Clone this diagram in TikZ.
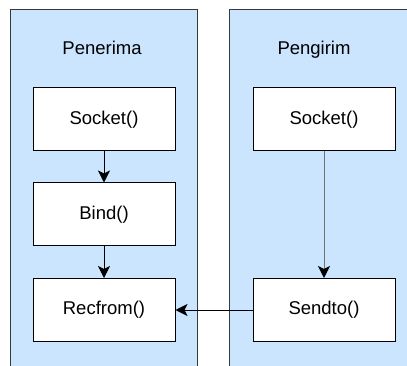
\documentclass[tikz,border=0pt]{standalone}
\usepackage{fontspec}
\setmainfont{Liberation Sans}
\usetikzlibrary{positioning,arrows.meta}

\begin{document}
\begin{tikzpicture}[x=1pt,y=-1pt,>={Stealth[length=12pt,width=12pt,inset=3pt]},
	every node/.style={font=\fontsize{18.5}{22}\selectfont},
	lanefill/.style={fill={rgb,255:red,204;green,229;blue,255}},
	lane/.style={draw={rgb,255:red,54;green,57;blue,61},line width=1pt},
	fn/.style={shape=rectangle,draw,fill=white,line width=1pt,minimum width=142pt,minimum height=63pt,inner sep=0pt},
	flow/.style={->,line width=1pt},
	]
		\useasboundingbox (0,0) rectangle (407,366);
		% the two lanes
		\fill[lanefill] (10,10) rectangle (197,366);
		\fill[lanefill] (229,10) rectangle (407,366);
		\draw[lane] (10,366) |- (197,10) -- (197,366);
		\draw[lane] (229,366) |- (407,10);
		
		% lane titles
		\node (penerima) [anchor=base] at (102,55) {Penerima};
		\node (pengirim) [anchor=base] at (314,55) {Pengirim};
		
		% create the nodes
		\node[fn] (sockP) at (104,119.5) {Socket()};
		\node[fn] (bind) [below =31pt of sockP] {Bind()};
		\node[fn] (recv) [below =31.5pt of bind] {Recfrom()};
		\node[fn] (sockS) [right =77pt of sockP] {Socket()};
		\node[fn] (sendto) [right =77pt of recv] {Sendto()};
		
		% connect the nodes
		\draw[flow] (sockP) to (bind);
		\draw[flow] (bind) to (recv);
		\draw[flow,draw=black!55,-{Stealth[length=12pt,width=12pt,inset=3pt,black]}] (sockS) to (sendto);
		\draw[flow] (sendto) to (recv);
	\end{tikzpicture}
\end{document}
